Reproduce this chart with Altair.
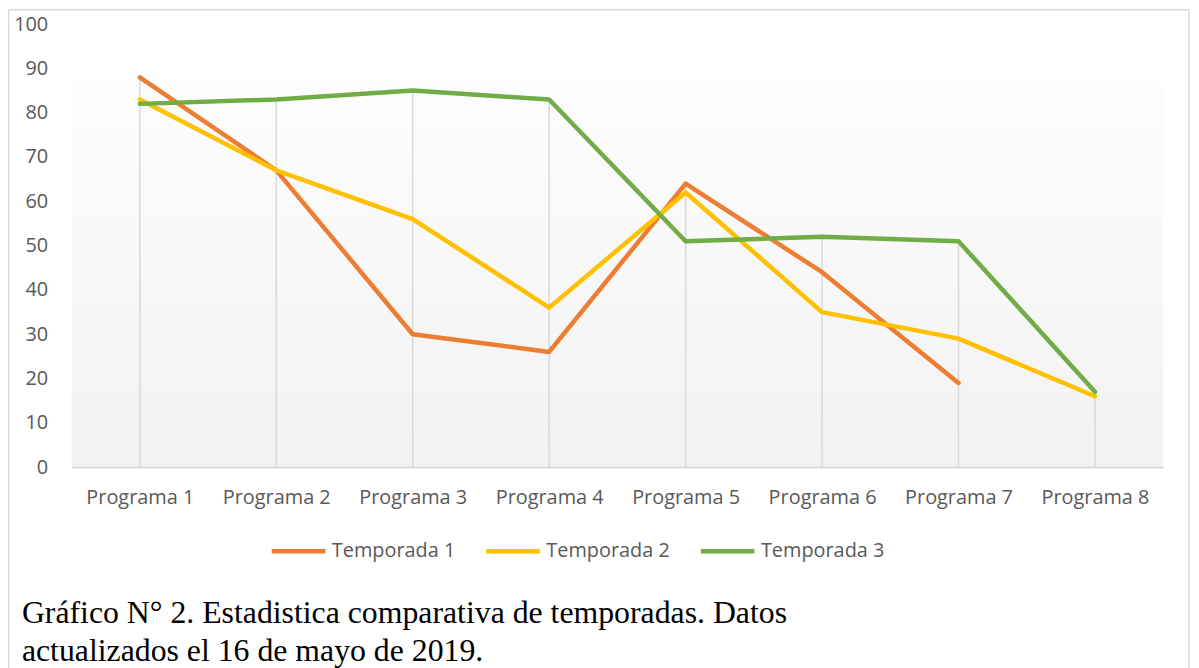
import altair as alt
import pandas as pd

programas = ["Programa 1", "Programa 2", "Programa 3", "Programa 4",
             "Programa 5", "Programa 6", "Programa 7", "Programa 8"]
temporada_1 = [88, 67, 30, 26, 64, 44, 19, None]
temporada_2 = [83, 67, 56, 36, 62, 35, 29, 16]
temporada_3 = [82, 83, 85, 83, 51, 52, 51, 17]
series_names = ["Temporada 1", "Temporada 2", "Temporada 3"]
series_colors = ["#ED7D31", "#FFC000", "#70AD47"]
y_ticks = [0, 10, 20, 30, 40, 50, 60, 70, 80, 90, 100]
caption = ["Gráfico N° 2. Estadistica comparativa de temporadas. Datos",
           "actualizados el 16 de mayo de 2019."]

rows = []
for name, vals in zip(series_names, [temporada_1, temporada_2, temporada_3]):
    for p, v in zip(programas, vals):
        if v is not None:
            rows.append({"Programa": p, "Serie": name, "Valor": v})
df = pd.DataFrame(rows)

W, H = 1099, 446
FONT = "Open Sans"
GRAY = "#595959"

x_enc = alt.X("Programa:N", sort=programas,
              scale=alt.Scale(type="point", padding=0.5),
              axis=alt.Axis(title=None, labelAngle=0, labelFont=FONT, labelFontSize=20,
                            labelColor=GRAY, ticks=False, domainColor="#d9d9d9",
                            domainWidth=2, grid=False, labelPadding=21, zindex=2))
y_scale = alt.Scale(domain=[0, 100], nice=False)

frame = alt.Chart(pd.DataFrame({"k": [0]})).mark_rect(
    fill="transparent", stroke="#d9d9d9", strokeWidth=1.5
).encode(x=alt.value(-63.5), x2=alt.value(W + 26), y=alt.value(-14.5), y2=alt.value(H + 260))

bg = alt.Chart(pd.DataFrame({"k": [0]})).mark_rect(
    color=alt.Gradient(gradient="linear", x1=0, x2=0, y1=0, y2=1,
                       stops=[alt.GradientStop(color="#fdfdfd", offset=0),
                              alt.GradientStop(color="#f2f2f2", offset=1)])
).encode(x=alt.value(0), x2=alt.value(W), y=alt.value(59), y2=alt.value(H))

drops = alt.Chart(df).transform_aggregate(
    top="max(Valor)", groupby=["Programa"]
).mark_rule(color="#d9d9d9", strokeWidth=1.5).encode(
    x=x_enc,
    y=alt.Y("top:Q", scale=y_scale),
    y2=alt.datum(0),
)

lines = alt.Chart(df).mark_line(strokeWidth=4.5, strokeCap="round", strokeJoin="round").encode(
    x=x_enc,
    y=alt.Y("Valor:Q", scale=y_scale,
            axis=alt.Axis(title=None, values=y_ticks, labelFont=FONT, labelFontSize=20,
                          labelColor=GRAY, ticks=False, domain=False, grid=False,
                          labelPadding=24, zindex=2)),
    color=alt.Color("Serie:N", sort=series_names,
                    scale=alt.Scale(domain=series_names, range=series_colors),
                    legend=alt.Legend(title=None, orient="none", direction="horizontal",
                                      legendX=199, legendY=501,
                                      symbolType="stroke", symbolSize=2916,
                                      symbolStrokeWidth=4.5, labelFont=FONT,
                                      labelFontSize=20, labelColor=GRAY,
                                      labelOffset=4, columnPadding=21)),
    order=alt.Order("Serie:N"),
)

cap = alt.Chart(pd.DataFrame({"t": ["\n".join(caption)]})).mark_text(
    align="left", baseline="alphabetic", font="Liberation Serif", fontSize=32,
    color="black", lineBreak="\n", lineHeight=38
).encode(text="t:N", x=alt.value(-50), y=alt.value(603))

chart = alt.layer(frame, bg, drops, lines, cap).properties(
    width=W, height=H,
    autosize=alt.AutoSizeParams(type="none"),
    padding={"left": 64, "top": 14, "right": 28, "bottom": 200},
).configure_view(stroke=None)

chart.save("out.html", embed_options={"renderer": "svg", "actions": False})
